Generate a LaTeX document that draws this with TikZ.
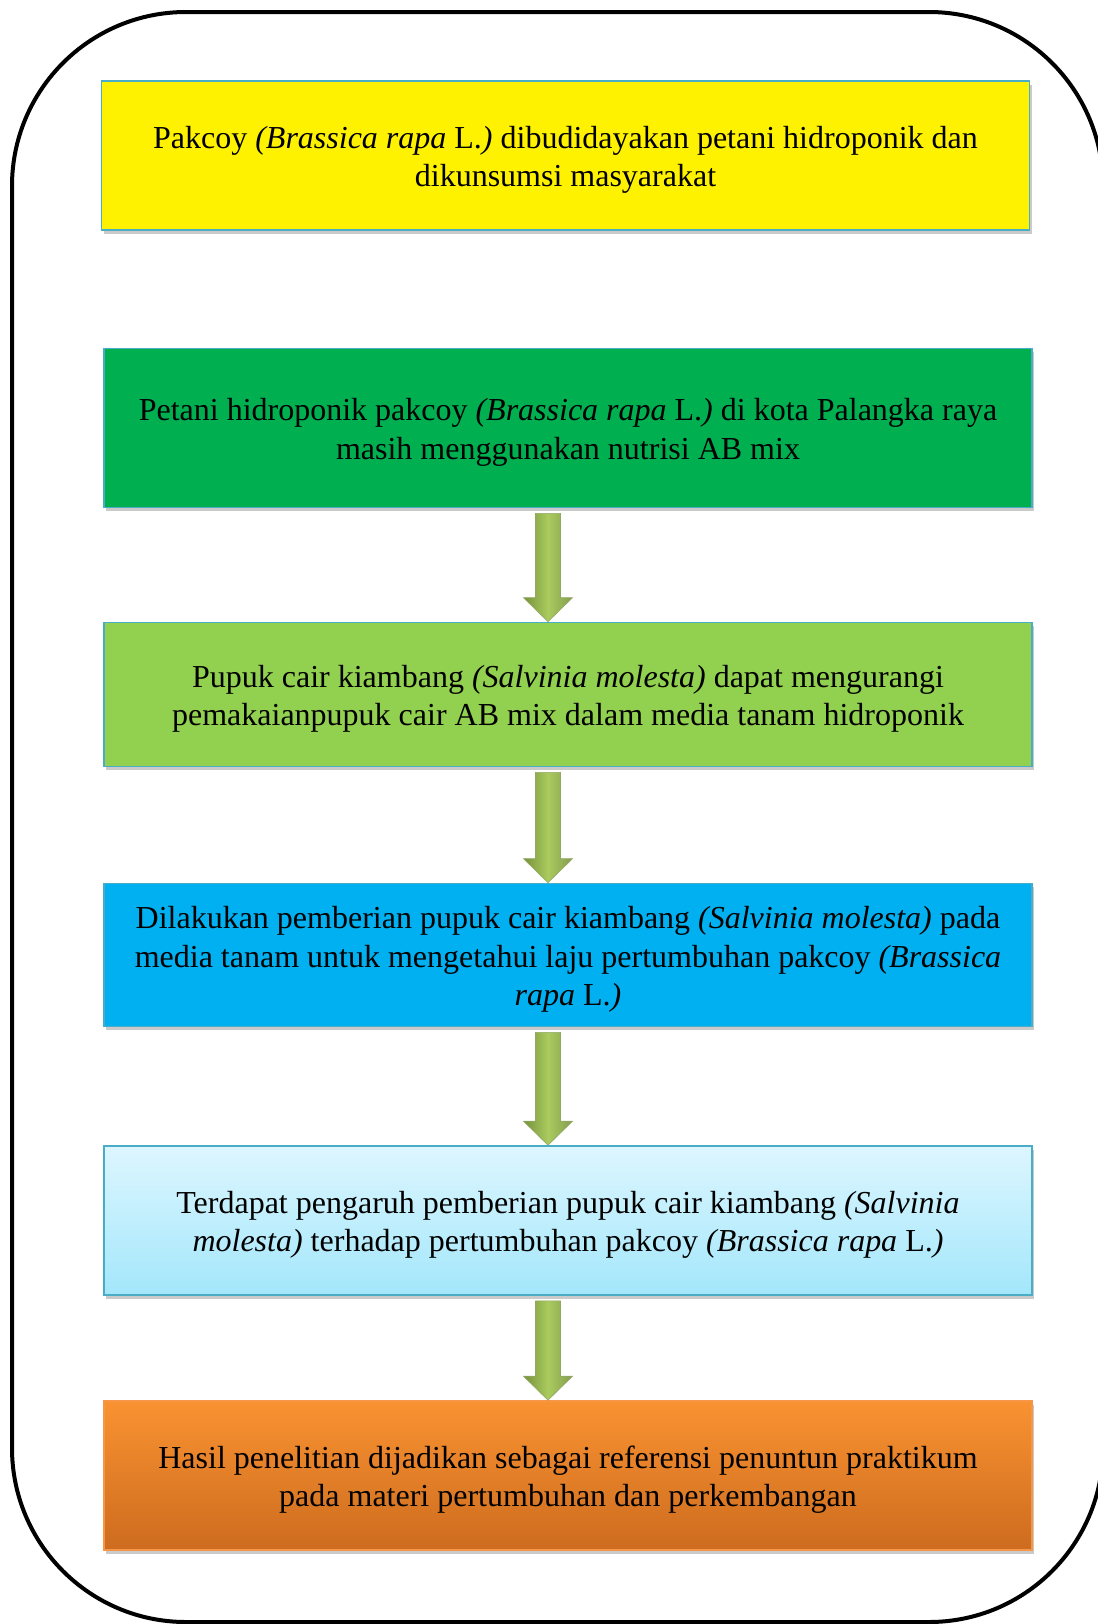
\documentclass[tikz,border=0pt]{standalone}
\usepackage{fontspec}
\setmainfont{Liberation Serif}
\usetikzlibrary{calc,shadows}

\definecolor{boxline}{HTML}{4BACC6}
\definecolor{arrowdark}{HTML}{76923C}
\definecolor{arrowlight}{HTML}{AACB5E}
\definecolor{petanigreen}{HTML}{00B050}
\definecolor{pupukgreen}{HTML}{92D050}
\definecolor{pemberianblue}{HTML}{00B0F0}
\definecolor{pengaruhtop}{HTML}{DDF6FF}
\definecolor{pengaruhbottom}{HTML}{A3E7FB}
\definecolor{hasilline}{HTML}{F79646}
\definecolor{hasiltop}{HTML}{F99231}
\definecolor{hasilbottom}{HTML}{CD6C1F}

\tikzset{
  flowbox/.style={draw=boxline, line width=0.8pt, minimum width=464pt,
    font=\fontsize{16}{19.2}\selectfont, inner sep=0pt,
    drop shadow={shadow xshift=1.2pt, shadow yshift=-1.8pt, opacity=0.35, fill=black!60}},
  flowarrow/.style={draw=arrowdark!80, line width=0.3pt, left color=arrowdark, right color=arrowdark!90, middle color=arrowlight}
}

% centred lines, first line set a little lower
\newcommand\flowtext[1]{\begin{tabular}{@{}c@{}}\rule{0pt}{17.8pt}#1\end{tabular}}

% block arrow from the bottom of one box to the top of the next
\newcommand\flowarrow[2]{%
  \path[flowarrow] let \p1=($(#1.south)+(-20,5)$), \p2=($(#2.north)+(-20,0)$) in
    ($(\x1,\y1)+(-12.5,0)$) -- ($(\x1,\y1)+(12.5,0)$) -- ($(\x1,\y2)+(12.5,-24)$)
    -- ($(\x1,\y2)+(24.5,-24)$) -- (\x1,\y2) -- ($(\x1,\y2)+(-24.5,-24)$)
    -- ($(\x1,\y2)+(-12.5,-24)$) -- cycle;}

\begin{document}
\begin{tikzpicture}[x=0.5pt, y=-0.5pt]
\useasboundingbox (0,0) rectangle (1098,1624);
\draw[line width=2pt, rounded corners=87pt] (12,12) rectangle (1103,1622);

\node[flowbox, fill=yellow, minimum height=74.5pt] (pakcoy) at (565.5,155.5)
  {\flowtext{Pakcoy \textit{(Brassica rapa} L.\textit{)} dibudidayakan petani hidroponik dan\\ dikunsumsi masyarakat}};
\node[flowbox, fill=petanigreen, minimum height=79.5pt] (petani) at (568,428)
  {\flowtext{Petani hidroponik pakcoy \textit{(Brassica rapa} L.\textit{)} di kota Palangka raya\\ masih menggunakan nutrisi AB mix}};
\node[flowbox, fill=pupukgreen, minimum height=72pt] (pupuk) at (568,694.5)
  {\flowtext{Pupuk cair kiambang \textit{(Salvinia molesta)} dapat mengurangi\\ pemakaianpupuk cair AB mix dalam media tanam hidroponik}};
\node[flowbox, fill=pemberianblue, minimum height=71.5pt] (pemberian) at (568,955)
  {\flowtext{Dilakukan pemberian pupuk cair kiambang \textit{(Salvinia molesta)} pada\\ media tanam untuk mengetahui laju pertumbuhan pakcoy \textit{(Brassica}\\ \textit{rapa} L.\textit{)}}};
\node[flowbox, top color=pengaruhtop, bottom color=pengaruhbottom, minimum height=74.5pt] (pengaruh) at (568,1220.5)
  {\flowtext{Terdapat pengaruh pemberian pupuk cair kiambang \textit{(Salvinia}\\ \textit{molesta)} terhadap pertumbuhan pakcoy \textit{(Brassica rapa} L.\textit{)}}};
\node[flowbox, draw=hasilline, top color=hasiltop, bottom color=hasilbottom, minimum height=74.5pt] (hasil) at (568,1475.5)
  {\flowtext{Hasil penelitian dijadikan sebagai referensi penuntun praktikum\\ pada materi pertumbuhan dan perkembangan}};

\flowarrow{petani}{pupuk}
\flowarrow{pupuk}{pemberian}
\flowarrow{pemberian}{pengaruh}
\flowarrow{pengaruh}{hasil}
\end{tikzpicture}
\end{document}
